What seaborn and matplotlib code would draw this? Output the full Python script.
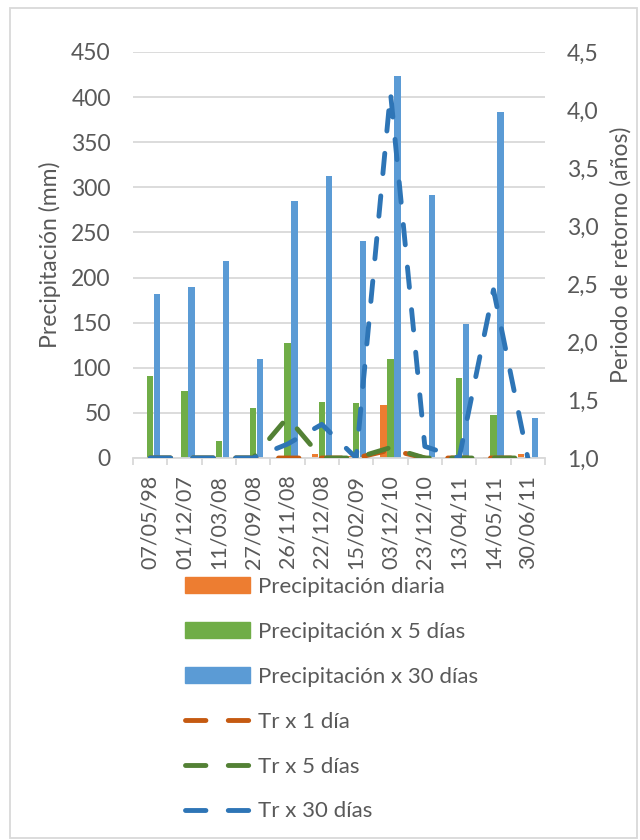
import numpy as np
import pandas as pd
import matplotlib.pyplot as plt
import matplotlib.patches as mpatches
import seaborn as sns

# data
fechas = ["07/05/98", "01/12/07", "11/03/08", "27/09/08", "26/11/08", "22/12/08",
          "15/02/09", "03/12/10", "23/12/10", "13/04/11", "14/05/11", "30/06/11"]
prec_diaria = [0, 0, 0, 0, 1, 4, 2, 59, 3, 1, 1, 4]
prec_5dias = [91, 74, 19, 55, 127, 62, 61, 110, 2, 89, 48, 1]
prec_30dias = [182, 190, 218, 110, 285, 313, 241, 423, 291, 149, 384, 44]
tr_1dia = [1.0, 1.0, 1.0, 1.0, 1.0, 1.0, 1.0, 1.07, 1.0, 1.0, 1.0, 1.0]
tr_5dias = [1.0, 1.0, 1.0, 1.0, 1.35, 1.0, 1.0, 1.09, 1.0, 1.0, 1.0, 1.0]
tr_30dias = [1.0, 1.0, 1.0, 1.0, 1.12, 1.29, 1.0, 4.15, 1.1, 1.0, 2.45, 1.0]

series = ["Precipitación diaria", "Precipitación x 5 días", "Precipitación x 30 días"]
bar_colors = ["#ED7D31", "#70AD47", "#5B9BD5"]
line_labels = ["Tr x 1 día", "Tr x 5 días", "Tr x 30 días"]
line_colors = ["#C55A11", "#538135", "#2E75B6"]

sns.set_theme(style="white")
plt.rcParams["font.family"] = ["Lato", "DejaVu Sans"]
gris = "#595959"
fs = 16
fs_tick = 16.5
fs_xtick = 15.5

df = pd.DataFrame({
    "fecha": fechas * 3,
    "serie": [s for s in series for _ in fechas],
    "valor": prec_diaria + prec_5dias + prec_30dias,
})

fig = plt.figure(figsize=(6.4, 8.4), dpi=100)
ax = fig.add_axes([133 / 640, 1 - 458 / 840, 412 / 640, 406 / 840])

sns.barplot(data=df, x="fecha", y="valor", hue="serie", palette=bar_colors,
            width=0.6, gap=0.08, linewidth=0, saturation=1, legend=False, ax=ax)
ax.set_xlim(-0.5, 11.5)
ax.set_ylim(0, 450)
ax.set_yticks(np.arange(0, 451, 50))
ax.yaxis.grid(True, color="#d9d9d9", lw=1.3)
ax.set_axisbelow(True)
for s in ["left", "right", "top"]:
    ax.spines[s].set_visible(False)
ax.spines["bottom"].set_color("#d9d9d9")
ax.spines["bottom"].set_linewidth(1.3)
ax.set_xticks(np.arange(12))
ax.set_xticklabels(fechas, rotation=90, fontsize=fs_xtick, color=gris)
ax.set_xticks(np.arange(-0.5, 12, 1), minor=True)
ax.tick_params(axis="x", which="major", length=0, pad=12)
ax.tick_params(axis="x", which="minor", length=5, width=1.3, color="#d9d9d9", bottom=True)
ax.tick_params(axis="y", length=0, pad=16, labelsize=fs_tick, labelcolor=gris)
ax.set_xlabel("")
ax.set_ylabel("Precipitación (mm)", fontsize=fs_tick, color=gris, labelpad=7)

ax2 = ax.twinx()
x = np.arange(len(fechas))
for vals, lab, col in zip([tr_1dia, tr_5dias, tr_30dias], line_labels, line_colors):
    sns.lineplot(x=x, y=vals, ax=ax2, color=col, lw=3.5, linestyle=(0, (4.2, 4.6)),
                 dash_capstyle="round", label=lab, legend=False)
ax2.set_ylim(1.0, 4.5)
ax2.set_yticks(np.arange(1.0, 4.51, 0.5))
ax2.set_yticklabels([f"{v:.1f}".replace(".", ",") for v in np.arange(1.0, 4.51, 0.5)])
ax2.tick_params(axis="y", length=0, pad=16, labelsize=fs_tick, labelcolor=gris)
ax2.set_ylabel("Periodo de retorno (años)", fontsize=fs_tick, color=gris, labelpad=8)
for s in ax2.spines.values():
    s.set_visible(False)
ax2.set_xlim(-0.5, 11.5)

handles = [mpatches.Patch(color=c) for c in bar_colors] + list(ax2.lines)
labels = series + line_labels
leg = fig.legend(handles, labels, loc="upper left", bbox_to_anchor=(0.258, 1 - 557 / 840),
                 frameon=False, fontsize=fs, handlelength=2.9, handletextpad=0.4,
                 labelspacing=1.12, labelcolor=gris)

# outer chart border
fig.patches.append(mpatches.Rectangle((10 / 640, 2 / 840), 627 / 640, 830 / 840,
                                      transform=fig.transFigure, fill=False,
                                      edgecolor="#d9d9d9", lw=1.3))

fig.savefig("out.png", dpi=100)
